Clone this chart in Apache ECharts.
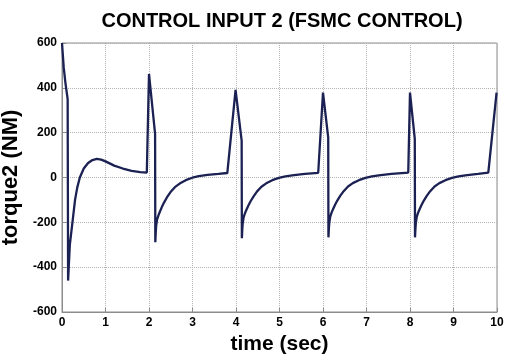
<!DOCTYPE html>
<html>
<head>
<meta charset="utf-8">
<script src="https://cdn.jsdelivr.net/npm/echarts@6/dist/echarts.min.js"></script>
<style>
  html, body { margin: 0; padding: 0; background: #fff; }
  #main { width: 505px; height: 354px; }
</style>
</head>
<body>
<div id="main"></div>
<script>
// time (sec) samples
const timeValues = [
  0, 0.04, 0.08, 0.13, 0.135, 0.14, 0.16, 0.18, 0.24, 0.3, 0.35, 0.41, 0.5, 0.6, 0.7, 0.8, 0.9, 1.0, 1.2, 1.4, 1.6, 1.8, 1.95,
  2.0, 2.14, 2.145, 2.155, 2.165, 2.185, 2.215, 2.245, 2.295, 2.345, 2.415, 2.495, 2.595, 2.705, 2.845, 2.995, 3.145, 3.345, 3.595, 3.8,
  3.99, 4.13, 4.135, 4.145, 4.155, 4.175, 4.205, 4.235, 4.285, 4.335, 4.405, 4.485, 4.585, 4.695, 4.835, 4.985, 5.135, 5.335, 5.585, 5.89,
  6.0, 6.12, 6.125, 6.135, 6.145, 6.165, 6.195, 6.225, 6.275, 6.325, 6.395, 6.475, 6.575, 6.685, 6.825, 6.975, 7.125, 7.325, 7.575, 7.96,
  8.0, 8.11, 8.115, 8.125, 8.135, 8.155, 8.185, 8.215, 8.265, 8.315, 8.385, 8.465, 8.565, 8.675, 8.815, 8.965, 9.115, 9.315, 9.565, 9.8,
  9.99
];
// torque2 (NM)
const torqueValues = [
  600, 490, 420, 350, -40, -460, -380, -300, -200, -100, -45, 0, 40, 65, 78, 83, 80, 72, 53, 40, 30, 24, 22,
  462, 195, -289, -245, -215, -188, -170, -155, -132, -112, -88, -65, -43, -27, -12, -1, 6, 12, 16, 20,
  391, 165, -271, -230, -203, -178, -160, -146, -125, -106, -84, -62, -41, -26, -12, -2, 5, 11, 16, 21,
  379, 178, -267, -228, -201, -176, -158, -144, -123, -104, -82, -61, -40, -25, -12, -2, 5, 11, 16, 22,
  379, 172, -267, -228, -201, -176, -158, -144, -123, -104, -82, -61, -40, -25, -12, -2, 5, 11, 16, 22,
  379
];
const xTicks = { min: 0, max: 10, step: 1 };
const yTicks = { min: -600, max: 600, step: 200 };

const chart = echarts.init(document.getElementById('main'));
const font = 'Liberation Sans, Arial, sans-serif';

chart.setOption({
  animation: false,
  backgroundColor: '#fff',
  title: {
    text: 'CONTROL INPUT 2 (FSMC CONTROL)',
    left: 282,
    top: 11,
    padding: 0,
    textAlign: 'center',
    textStyle: { fontFamily: font, fontSize: 20, fontWeight: 'bold', color: '#000' }
  },
  grid: {
    left: 62, right: 8, top: 43, bottom: 42,
    outerBoundsMode: 'none',
    containLabel: false,
    show: true, borderColor: '#8c8c8c', borderWidth: 1
  },
  xAxis: {
    type: 'value',
    min: xTicks.min, max: xTicks.max, interval: xTicks.step,
    name: 'time (sec)',
    nameLocation: 'middle',
    nameGap: 20,
    nameTextStyle: { fontFamily: font, fontSize: 21, fontWeight: 'bold', color: '#000' },
    axisLine: { onZero: false, lineStyle: { color: '#8c8c8c' } },
    axisTick: { inside: true, length: 4, lineStyle: { color: '#8c8c8c' } },
    axisLabel: { fontFamily: font, fontSize: 12, fontWeight: 'bold', color: '#000', margin: 5 },
    splitLine: { lineStyle: { type: 'dotted', color: '#b4b4b4' } }
  },
  yAxis: {
    type: 'value',
    min: yTicks.min, max: yTicks.max, interval: yTicks.step,
    name: 'torque2 (NM)',
    nameLocation: 'middle',
    nameGap: 27,
    nameTextStyle: { fontFamily: font, fontSize: 22, fontWeight: 'bold', color: '#000' },
    axisLine: { show: true, onZero: false, lineStyle: { color: '#8c8c8c' } },
    axisTick: { show: true, inside: true, length: 4, lineStyle: { color: '#8c8c8c' } },
    axisLabel: { fontFamily: font, fontSize: 12, fontWeight: 'bold', color: '#000', margin: 5 },
    splitLine: { lineStyle: { type: 'dotted', color: '#b4b4b4' } }
  },
  series: [{
    type: 'line',
    data: timeValues.map((t, i) => [t, torqueValues[i]]),
    showSymbol: false,
    smooth: false,
    lineStyle: { color: '#1b2152', width: 2.3 }
  }]
});
</script>
</body>
</html>
